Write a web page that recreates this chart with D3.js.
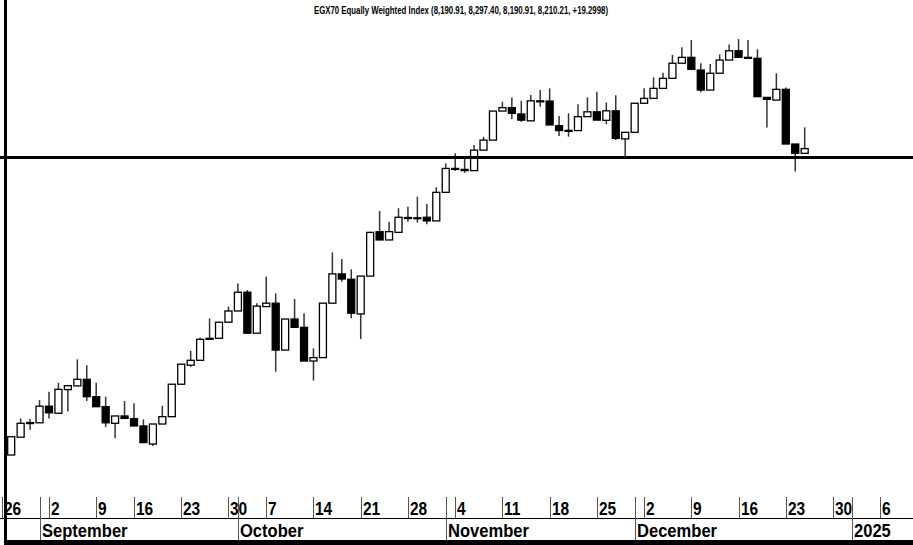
<!DOCTYPE html>
<html>
<head>
<meta charset="utf-8">
<script src="https://cdn.jsdelivr.net/npm/d3@7"></script>
<style>
  body { margin: 0; background: #fff; }
  svg { display: block; }
</style>
</head>
<body>
<div id="container"></div>
<script>
const w = 913,
  h = 545,
  plotBottom = 497,
  rowSplit = 518,
  axisBottom = 540;

const title =
  'EGX70 Equally Weighted Index (8,190.91, 8,297.40, 8,190.91, 8,210.21, +19.2998)';

// trading calendar (Sun-Thu), first candle and market holidays
const calendarStart = '2024-08-25';
const calendarEnd = '2025-01-10';
const firstCandle = '2024-08-27';
const holidays = ['2024-09-15', '2024-10-06'];

const opens = [
  6955, 7028, 7086, 7087, 7155, 7126, 7223, 7238, 7265, 7194,
  7153, 7085, 7115, 7104, 7074, 7000, 7082, 7112, 7245, 7323,
  7343, 7433, 7433, 7499, 7545, 7622, 7454, 7563, 7577, 7385,
  7512, 7478, 7340, 7354, 7577, 7697, 7675, 7533, 7688, 7870,
  7836, 7867, 7928, 7923, 7929, 7914, 8031, 8129, 8125, 8120,
  8204, 8245, 8364, 8378, 8352, 8324, 8406, 8405, 8304, 8284,
  8284, 8341, 8361, 8326, 8365, 8250, 8277, 8396, 8416, 8457,
  8498, 8560, 8584, 8532, 8450, 8519, 8573, 8611, 8584, 8580,
  8420, 8409, 8453, 8229, 8190.91,
];
const highs = [
  7033, 7105, 7103, 7180, 7214, 7251, 7239, 7347, 7323, 7251,
  7194, 7115, 7176, 7167, 7101, 7082, 7157, 7245, 7327, 7382,
  7436, 7515, 7499, 7563, 7658, 7631, 7577, 7685, 7617, 7512,
  7594, 7536, 7392, 7577, 7785, 7758, 7716, 7688, 7870, 7955,
  7911, 7966, 7972, 8013, 7983, 8052, 8150, 8191, 8177, 8225,
  8259, 8364, 8402, 8420, 8406, 8430, 8450, 8457, 8344, 8355,
  8392, 8420, 8443, 8399, 8429, 8277, 8396, 8457, 8502, 8521,
  8594, 8625, 8655, 8560, 8557, 8596, 8637, 8659, 8655, 8617,
  8420, 8519, 8461, 8229, 8297.4,
];
const lows = [
  6955, 7028, 7058, 7087, 7105, 7126, 7133, 7238, 7176, 7153,
  7069, 7024, 7105, 7074, 7003, 6992, 7082, 7112, 7245, 7316,
  7343, 7429, 7433, 7499, 7545, 7454, 7454, 7563, 7296, 7385,
  7478, 7340, 7260, 7354, 7577, 7665, 7515, 7430, 7688, 7836,
  7836, 7867, 7911, 7907, 7900, 7914, 8031, 8120, 8111, 8120,
  8204, 8245, 8364, 8331, 8320, 8324, 8382, 8307, 8262, 8259,
  8284, 8341, 8327, 8310, 8245, 8176, 8277, 8396, 8416, 8457,
  8498, 8560, 8535, 8441, 8450, 8519, 8573, 8584, 8580, 8423,
  8297, 8409, 8229, 8116, 8190.91,
];
const closes = [
  7030, 7085, 7088, 7155, 7128, 7224, 7239, 7265, 7194, 7153,
  7087, 7115, 7105, 7074, 7006, 7082, 7112, 7245, 7327, 7343,
  7429, 7429, 7499, 7545, 7622, 7454, 7565, 7577, 7385, 7512,
  7478, 7340, 7354, 7577, 7697, 7676, 7536, 7688, 7867, 7836,
  7870, 7929, 7927, 7927, 7914, 8031, 8129, 8125, 8120, 8204,
  8245, 8364, 8378, 8355, 8327, 8406, 8404, 8307, 8284, 8285,
  8341, 8361, 8327, 8365, 8252, 8277, 8396, 8416, 8457, 8498,
  8560, 8584, 8535, 8450, 8519, 8573, 8611, 8584, 8580, 8423,
  8412, 8453, 8229, 8190.91, 8210.21,
];

const supportLevel = 8174;

const weekTicks = [
  '2024-08-26', '2024-09-02', '2024-09-09', '2024-09-16', '2024-09-23',
  '2024-09-30', '2024-10-07', '2024-10-14', '2024-10-21', '2024-10-28',
  '2024-11-04', '2024-11-11', '2024-11-18', '2024-11-25', '2024-12-02',
  '2024-12-09', '2024-12-16', '2024-12-23', '2024-12-30', '2025-01-06',
];
const monthTicks = [
  ['2024-09-01', 'September'],
  ['2024-10-01', 'October'],
  ['2024-11-03', 'November'],
  ['2024-12-01', 'December'],
  ['2025-01-01', '2025'],
];

const parse = d3.timeParse('%Y-%m-%d');
const fmt = d3.timeFormat('%Y-%m-%d');

const days = d3.timeDay
  .range(parse(calendarStart), parse(calendarEnd))
  .filter((d) => d.getDay() !== 5 && d.getDay() !== 6)
  .map(fmt)
  .filter((d) => !holidays.includes(d));

const start = days.indexOf(firstCandle);
const candles = opens.map((o, i) => ({
  day: days[start + i],
  open: o,
  high: highs[i],
  low: lows[i],
  close: closes[i],
}));

const svg = d3
  .select('#container')
  .append('svg')
  .attr('width', w)
  .attr('height', h);

const xScale = d3.scalePoint().domain(days).range([-7.7, 908.6]);
const yScale = d3.scaleLinear().domain([6783, 8819]).range([plotBottom, 0]);
const bodyWidth = 7;

svg
  .append('text')
  .text(title)
  .attr('x', 461)
  .attr('y', 14)
  .attr('text-anchor', 'middle')
  .attr('textLength', 294)
  .attr('lengthAdjust', 'spacingAndGlyphs')
  .style('font-family', 'Liberation Sans, Arial, sans-serif')
  .style('font-weight', 'bold')
  .style('font-size', '10px');

const plot = svg.append('g');

plot
  .selectAll('line.wick')
  .data(candles)
  .enter()
  .append('line')
  .attr('class', 'wick')
  .attr('x1', (d) => xScale(d.day))
  .attr('x2', (d) => xScale(d.day))
  .attr('y1', (d) => yScale(d.high))
  .attr('y2', (d) => yScale(d.low))
  .attr('stroke', '#333')
  .attr('stroke-width', 1.5);

plot
  .selectAll('rect.body')
  .data(candles)
  .enter()
  .append('rect')
  .attr('class', 'body')
  .attr('x', (d) => xScale(d.day) - bodyWidth / 2)
  .attr('y', (d) => yScale(Math.max(d.open, d.close)))
  .attr('width', bodyWidth)
  .attr('height', (d) =>
    Math.max(1, Math.abs(yScale(d.open) - yScale(d.close)))
  )
  .attr('fill', (d) => (d.close >= d.open ? '#fff' : '#000'))
  .attr('stroke', '#000')
  .attr('stroke-width', 1.3);

svg
  .append('line')
  .attr('x1', 0)
  .attr('x2', w)
  .attr('y1', yScale(supportLevel))
  .attr('y2', yScale(supportLevel))
  .attr('stroke', '#000')
  .attr('stroke-width', 3);

// time axis
const axis = svg.append('g').attr('id', 'x-axis');

axis
  .append('line')
  .attr('x1', 0)
  .attr('x2', w)
  .attr('y1', rowSplit + 0.5)
  .attr('y2', rowSplit + 0.5)
  .attr('stroke', '#000');

const labelStyle = (sel) =>
  sel
    .style('font-family', 'Liberation Sans, Arial, sans-serif')
    .style('font-weight', 'bold')
    .style('font-size', '18px');

const weeks = axis
  .selectAll('g.week')
  .data(weekTicks)
  .enter()
  .append('g')
  .attr('class', 'week')
  .attr('transform', (d) => 'translate(' + Math.round(xScale(d)) + ',0)');

weeks
  .append('line')
  .attr('x1', 0.5)
  .attr('x2', 0.5)
  .attr('y1', plotBottom)
  .attr('y2', rowSplit)
  .attr('stroke', '#555');

weeks
  .append('text')
  .text((d) => d3.timeFormat('%-d')(parse(d)))
  .attr('transform', 'translate(2,' + (rowSplit - 3) + ') scale(0.86,1)')
  .call(labelStyle);

const months = axis
  .selectAll('g.month')
  .data(monthTicks)
  .enter()
  .append('g')
  .attr('class', 'month')
  .attr('transform', (d) => 'translate(' + Math.round(xScale(d[0])) + ',0)');

months
  .append('line')
  .attr('x1', 0.5)
  .attr('x2', 0.5)
  .attr('y1', plotBottom)
  .attr('y2', axisBottom)
  .attr('stroke', '#555');

months
  .append('text')
  .text((d) => d[1])
  .attr('transform', 'translate(2,' + (axisBottom - 3) + ') scale(0.92,1)')
  .call(labelStyle);

// frame
svg.append('rect').attr('x', 4).attr('y', 0).attr('width', 3).attr('height', h).attr('fill', '#000');
svg.append('rect').attr('x', 4).attr('y', axisBottom).attr('width', w).attr('height', 5).attr('fill', '#000');
</script>
</body>
</html>
